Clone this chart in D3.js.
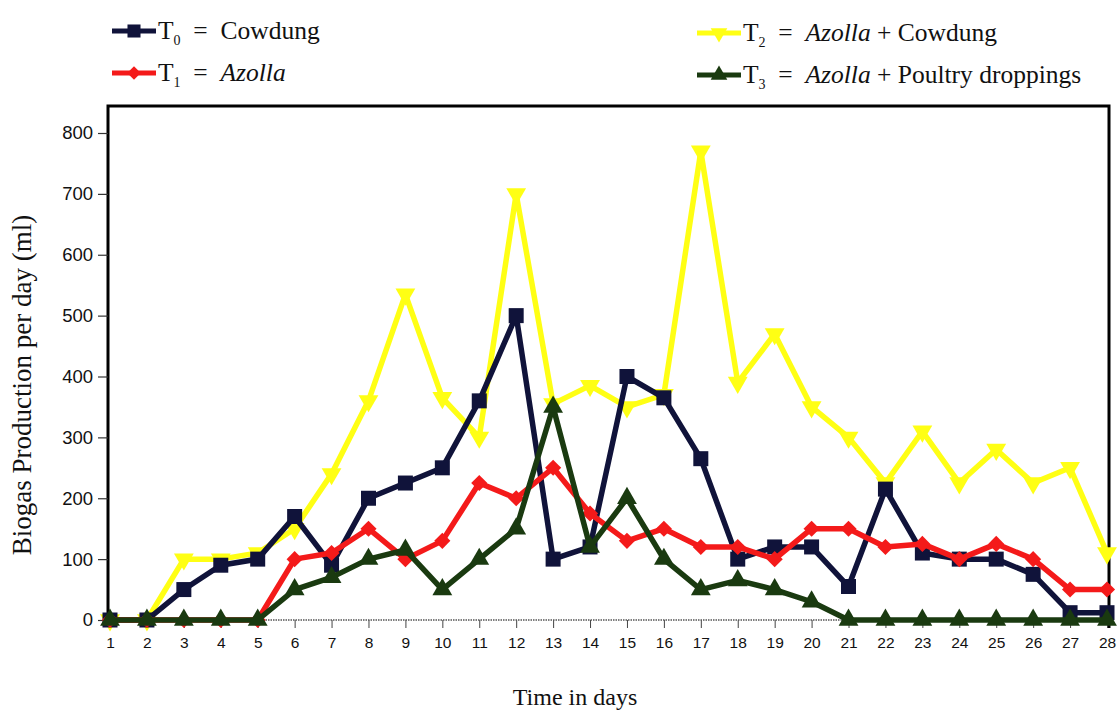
<!DOCTYPE html>
<html>
<head>
<meta charset="utf-8">
<script src="https://cdn.jsdelivr.net/npm/d3@7"></script>
<style>
  body { margin: 0; background: #fff; }
  svg { display: block; }
</style>
</head>
<body>
<svg id="chart" width="1117" height="712"></svg>
<script>
// values
var days = [1, 2, 3, 4, 5, 6, 7, 8, 9, 10, 11, 12, 13, 14, 15, 16, 17, 18, 19, 20, 21, 22, 23, 24, 25, 26, 27, 28];
var t0_cowdung = [0, 0, 50, 90, 100, 170, 90, 200, 225, 250, 360, 500, 100, 120, 400, 365, 265, 100, 120, 120, 55, 215, 110, 100, 100, 75, 12, 12];
var t1_azolla = [0, 0, 0, 0, 0, 100, 110, 150, 100, 130, 225, 200, 250, 175, 130, 150, 120, 120, 100, 150, 150, 120, 125, 100, 125, 100, 50, 50];
var t2_azolla_cowdung = [0, 0, 100, 100, 110, 150, 240, 360, 535, 365, 300, 700, 355, 385, 350, 370, 770, 390, 470, 350, 300, 225, 310, 225, 280, 225, 250, 110];
var t3_azolla_poultry = [0, 0, 0, 0, 0, 50, 70, 100, 115, 50, 100, 150, 350, 120, 200, 100, 50, 65, 50, 30, 0, 0, 0, 0, 0, 0, 0, 0];
var yTicks = [0, 100, 200, 300, 400, 500, 600, 700, 800];

var svg = d3.select("#chart"),
  width = +svg.attr("width"),
  height = +svg.attr("height");

var left = 108, right = 1109, top_ = 106;
var serif = "'Liberation Serif', 'Times New Roman', Times, serif";
var sans = "'Liberation Sans', Arial, sans-serif";

var x = d3.scaleLinear().domain([1, 28]).range([110, 1107]);
var y = d3.scaleLinear().domain([0, 800]).range([620, 133]);

var series = [
  { key: "T2", vals: t2_azolla_cowdung, color: "#ffff14", shape: "down", size: 170 },
  { key: "T0", vals: t0_cowdung, color: "#10133a", shape: "square", size: 225 },
  { key: "T1", vals: t1_azolla, color: "#f41a1a", shape: "diamond", size: 130 },
  { key: "T3", vals: t3_azolla_poultry, color: "#1a3a10", shape: "up", size: 170 }
];

function symPath(shape, size) {
  var t = shape == "square" || shape == "diamond" ? d3.symbolSquare : d3.symbolTriangle;
  return d3.symbol().type(t).size(size)();
}
function symRot(shape) {
  if (shape == "diamond") return 45;
  if (shape == "down") return 180;
  return 0;
}

// frame
svg.append("path")
  .attr("d", "M" + left + "," + y(0) + "V" + top_ + "H" + right + "V" + (y(0) + 8))
  .attr("fill", "none").attr("stroke", "#000").attr("stroke-width", 3);

// y axis
var yAxis = svg.append("g")
  .attr("transform", "translate(" + left + ",0)")
  .call(d3.axisLeft(y).tickValues(yTicks).tickSize(10).tickPadding(5).tickFormat(d3.format("d")));
yAxis.select(".domain").remove();
yAxis.selectAll("line").attr("stroke", "#333").attr("stroke-width", 1.2);
yAxis.selectAll("text")
  .attr("font-family", sans)
  .attr("font-size", 18.5).attr("fill", "#111");

// x axis
var xAxis = svg.append("g")
  .attr("transform", "translate(0," + y(0) + ")")
  .call(d3.axisBottom(x).tickValues(days).tickSize(8).tickPadding(9).tickFormat(d3.format("d")));
xAxis.select(".domain").remove();
xAxis.append("line")
  .attr("x1", left).attr("x2", right).attr("y1", 0).attr("y2", 0)
  .attr("stroke", "#555").attr("stroke-width", 1.5).attr("stroke-dasharray", "1.5,1");
xAxis.selectAll(".tick line").attr("stroke", "#444").attr("stroke-width", 1);
xAxis.selectAll("text")
  .attr("font-family", sans)
  .attr("font-size", 15.5).attr("fill", "#111");

// axis titles
svg.append("text")
  .attr("transform", "translate(31,385) rotate(-90)")
  .attr("text-anchor", "middle")
  .attr("font-family", serif)
  .attr("font-size", 27).attr("fill", "#111")
  .text("Biogas Production per day (ml)");

svg.append("text")
  .attr("x", 575).attr("y", 705)
  .attr("text-anchor", "middle")
  .attr("font-family", serif)
  .attr("font-size", 24).attr("fill", "#111")
  .text("Time in days");

// lines + markers
var line = d3.line().x((d, i) => x(days[i])).y(d => y(d));

series.forEach(s => {
  svg.append("path")
    .datum(s.vals)
    .attr("d", line)
    .attr("fill", "none")
    .attr("stroke", s.color)
    .attr("stroke-width", 5.5)
    .attr("stroke-linejoin", "round");

  svg.append("g").selectAll("path")
    .data(s.vals)
    .enter().append("path")
    .attr("d", symPath(s.shape, s.size))
    .attr("transform", (d, i) => "translate(" + x(days[i]) + "," + y(d) + ") rotate(" + symRot(s.shape) + ")")
    .attr("fill", s.color);
});

// legend
var legend = [
  { sub: "0", parts: [["Cowdung", false]], color: "#10133a", shape: "square", size: 170, lx: 112, ly: 31 },
  { sub: "1", parts: [["Azolla", true]], color: "#f41a1a", shape: "diamond", size: 90, lx: 112, ly: 73 },
  { sub: "2", parts: [["Azolla", true], [" + Cowdung", false]], color: "#ffff14", shape: "down", size: 120, lx: 697, ly: 33 },
  { sub: "3", parts: [["Azolla", true], [" + Poultry droppings", false]], color: "#1a3a10", shape: "up", size: 120, lx: 697, ly: 75 }
];

var lg = svg.append("g").selectAll("g").data(legend).enter().append("g")
  .attr("transform", d => "translate(" + d.lx + "," + d.ly + ")");

lg.append("line")
  .attr("x1", 0).attr("x2", 44).attr("y1", 0).attr("y2", 0)
  .attr("stroke", d => d.color).attr("stroke-width", 5);
lg.append("path")
  .attr("d", d => symPath(d.shape, d.size))
  .attr("transform", d => "translate(22,0) rotate(" + symRot(d.shape) + ")")
  .attr("fill", d => d.color);

var txt = lg.append("text")
  .attr("x", 46).attr("y", 8)
  .attr("font-family", serif)
  .attr("font-size", 25.5).attr("fill", "#111");
txt.append("tspan").text("T");
txt.append("tspan").attr("font-size", 14).attr("dy", 6).text(d => d.sub);
txt.append("tspan").attr("dy", -6).attr("xml:space", "preserve").text("  =  ");
txt.each(function (d) {
  var t = d3.select(this);
  d.parts.forEach(p => {
    t.append("tspan").attr("font-style", p[1] ? "italic" : "normal").text(p[0]);
  });
});
</script>
</body>
</html>
